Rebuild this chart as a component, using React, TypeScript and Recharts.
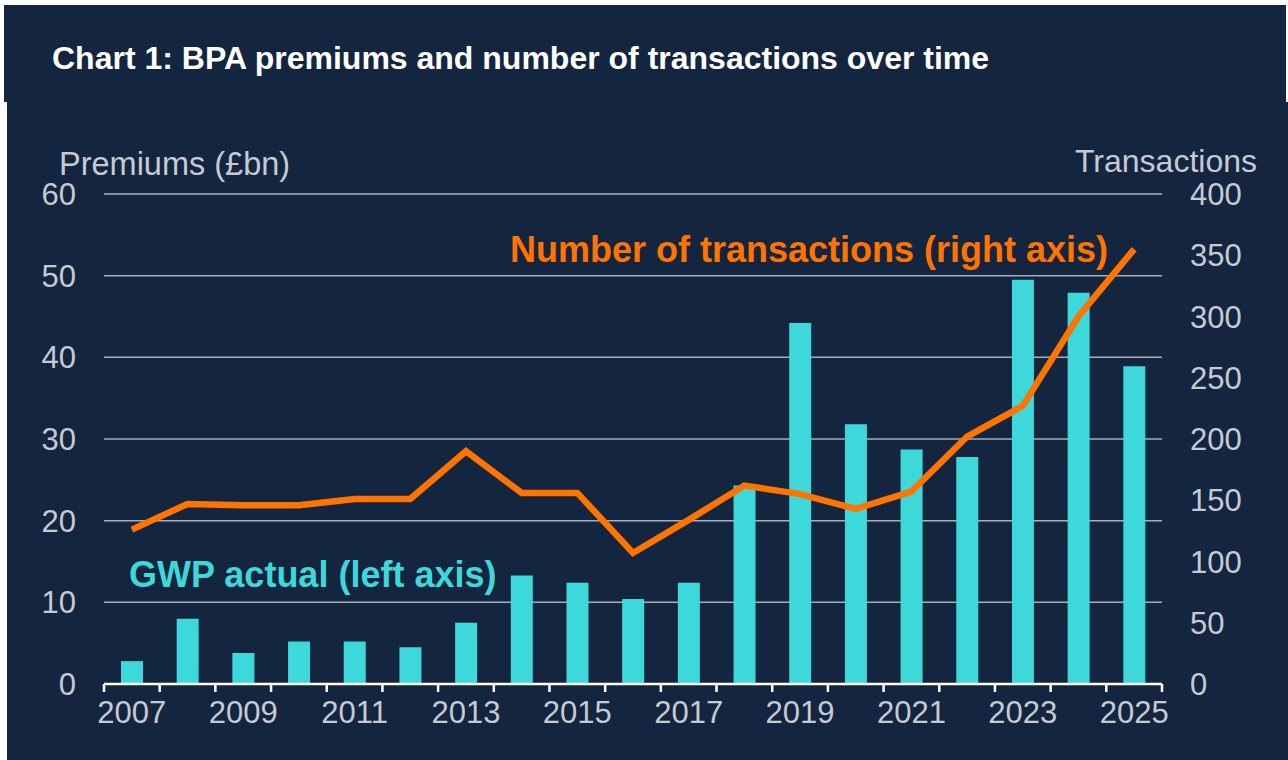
import { ComposedChart, Bar, Line, XAxis, YAxis, CartesianGrid } from "recharts";

const years = [
  "2007", "2008", "2009", "2010", "2011", "2012", "2013", "2014", "2015", "2016",
  "2017", "2018", "2019", "2020", "2021", "2022", "2023", "2024", "2025",
];

// GWP actual, £bn (left axis)
const gwpActual = [
  2.8, 8.0, 3.8, 5.2, 5.2, 4.5, 7.5, 13.3, 12.4, 10.4,
  12.4, 24.3, 44.2, 31.8, 28.7, 27.8, 49.5, 47.9, 38.9,
];

// Number of transactions (right axis)
const transactions = [
  126, 147, 146, 146, 151, 151, 190, 156, 156, 107,
  134, 162, 155, 143, 157, 202, 227, 300, 355,
];

const leftTicks = [0, 10, 20, 30, 40, 50, 60];
const rightTicks = [0, 50, 100, 150, 200, 250, 300, 350, 400];

const NAVY = "#13253f";
const CYAN = "#3dd8da";
const ORANGE = "#ff7300";
const GREY_TEXT = "#c6cad2";
const GRID = "#a9afb9";
const FONT = "'Liberation Sans', Arial, sans-serif";

const TICK_LEN = 8;
const LABEL_GAP = 17;

const data = years.map((year, i) => ({
  year,
  gwp: gwpActual[i],
  deals: transactions[i],
}));

const tickStyle = { fill: GREY_TEXT, fontSize: 31, fontFamily: FONT };

// x-axis tick: tick marks sit on the category edges, labels on every other year
function YearTick(props: any) {
  const { x, y, payload, index } = props;
  const half = payload.offset ?? 0;
  const axisY = y - LABEL_GAP;
  const isLast = payload.value === years[years.length - 1];
  return (
    <g>
      <line x1={x - half} x2={x - half} y1={axisY} y2={axisY + TICK_LEN} stroke="#fff" strokeWidth={2.5} />
      {isLast && (
        <line x1={x + half} x2={x + half} y1={axisY} y2={axisY + TICK_LEN} stroke="#fff" strokeWidth={2.5} />
      )}
      {index % 2 === 0 && (
        <text x={x} y={y} dy="0.71em" textAnchor="middle" {...tickStyle}>
          {payload.value}
        </text>
      )}
    </g>
  );
}

export default function App() {
  return (
    <div
      style={{
        position: "absolute",
        left: 0,
        top: 0,
        width: 1288,
        height: 760,
        background: "#fff",
        fontFamily: FONT,
      }}
    >
      <div style={{ position: "absolute", left: 4, top: 5, width: 1282, height: 97, background: NAVY }} />
      <div style={{ position: "absolute", left: 7, top: 102, width: 1281, height: 658, background: NAVY }} />

      <div style={{ position: "absolute", left: 0, top: 0 }}>
        <ComposedChart
          width={1288}
          height={760}
          data={data}
          margin={{ top: 194, right: 0, bottom: 0, left: 0 }}
        >
          <CartesianGrid
            xAxisId="cat"
            yAxisId="left"
            vertical={false}
            stroke={GRID}
            strokeWidth={1.5}
          />
          <XAxis
            xAxisId="cat"
            dataKey="year"
            height={76}
            interval={0}
            axisLine={{ stroke: "#fff", strokeWidth: 2.5 }}
            tickLine={false}
            tickSize={0}
            tickMargin={LABEL_GAP}
            tick={<YearTick />}
          />
          <YAxis
            yAxisId="left"
            domain={[0, 60]}
            ticks={leftTicks}
            width={104}
            axisLine={false}
            tickLine={false}
            tickSize={0}
            tickMargin={28}
            tick={tickStyle}
          />
          <YAxis
            yAxisId="right"
            orientation="right"
            domain={[0, 400]}
            ticks={rightTicks}
            width={126}
            axisLine={false}
            tickLine={false}
            tickSize={0}
            tickMargin={28}
            tick={{ ...tickStyle, textAnchor: "start" }}
          />
          <Bar
            xAxisId="cat"
            yAxisId="left"
            dataKey="gwp"
            fill={CYAN}
            barSize={22}
            isAnimationActive={false}
          />
          <Line
            xAxisId="cat"
            yAxisId="right"
            dataKey="deals"
            type="linear"
            stroke={ORANGE}
            strokeWidth={6.5}
            dot={false}
            activeDot={false}
            isAnimationActive={false}
          />
        </ComposedChart>
      </div>

      <svg
        width={1288}
        height={760}
        style={{ position: "absolute", left: 0, top: 0, pointerEvents: "none" }}
      >
        <text x={52} y={69} fill="#fff" fontSize={32} fontWeight="bold" fontFamily={FONT}>
          Chart 1: BPA premiums and number of transactions over time
        </text>
        <text x={59} y={175} fill={GREY_TEXT} fontSize={32.5} fontFamily={FONT}>
          Premiums (£bn)
        </text>
        <text x={1257} y={172} fill={GREY_TEXT} fontSize={32} fontFamily={FONT} textAnchor="end">
          Transactions
        </text>
        <text x={510} y={262} fill={ORANGE} fontSize={36} fontWeight="bold" fontFamily={FONT}>
          Number of transactions (right axis)
        </text>
        <text x={129} y={587} fill={CYAN} fontSize={36} fontWeight="bold" fontFamily={FONT}>
          GWP actual (left axis)
        </text>
      </svg>
    </div>
  );
}
